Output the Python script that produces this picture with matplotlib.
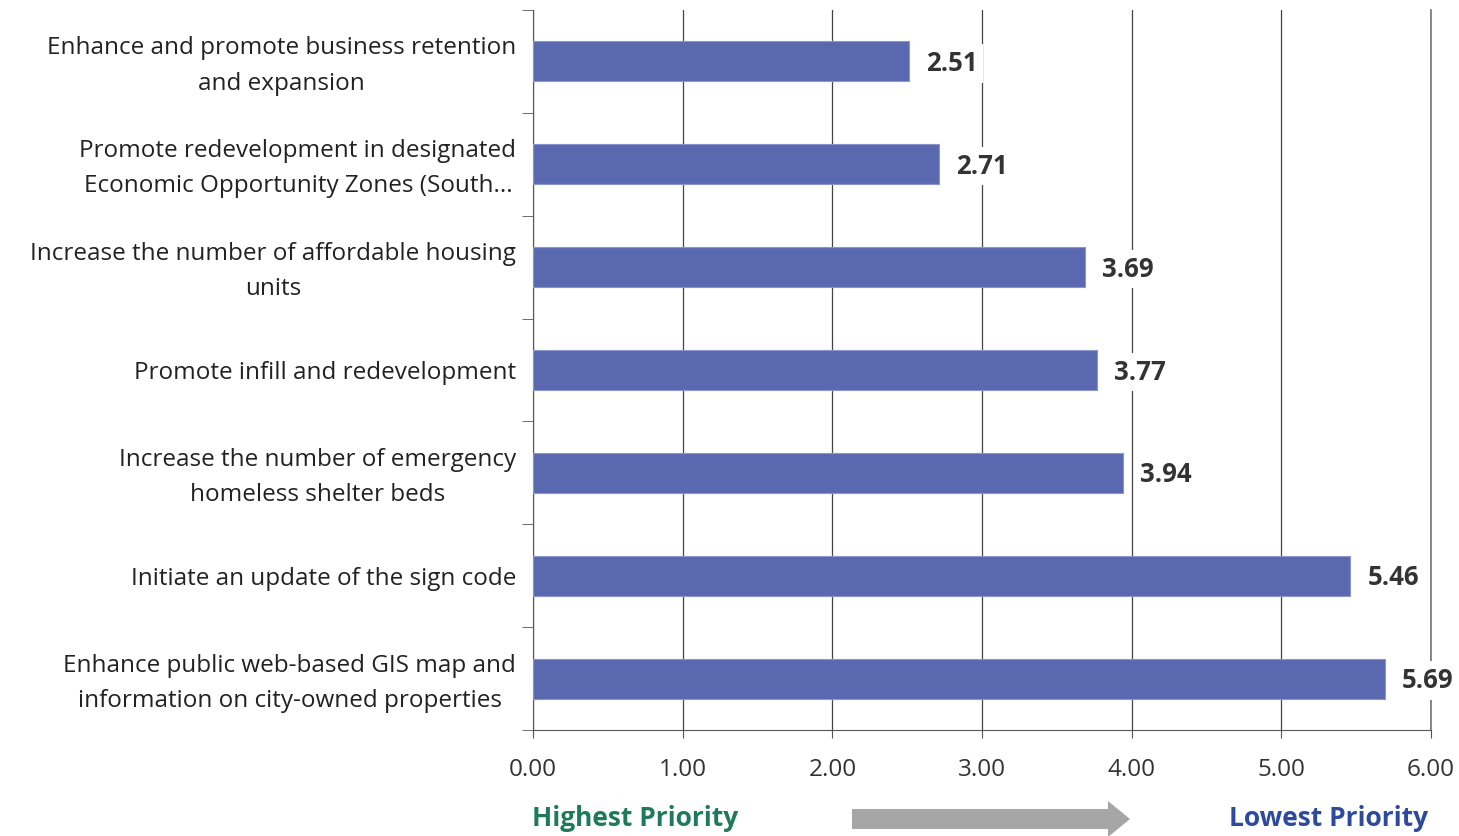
import matplotlib.pyplot as plt
from matplotlib.patches import FancyArrow
from matplotlib.transforms import ScaledTranslation

plt.rcParams['font.family'] = ['Open Sans', 'DejaVu Sans']

categories = [
    "Enhance and promote business retention\nand expansion",
    "Promote redevelopment in designated\nEconomic Opportunity Zones (South...",
    "Increase the number of affordable housing\nunits",
    "Promote infill and redevelopment",
    "Increase the number of emergency\nhomeless shelter beds",
    "Initiate an update of the sign code",
    "Enhance public web-based GIS map and\ninformation on city-owned properties",
]
scores = [2.51, 2.71, 3.69, 3.77, 3.94, 5.46, 5.69]
xticks = [0, 1, 2, 3, 4, 5, 6]

fig = plt.figure(figsize=(14.59, 8.36), dpi=100)
ax = fig.add_axes([533 / 1459, 1 - 730 / 836, (1431 - 533) / 1459, 720 / 836])

ypos = list(range(len(categories)))
ax.barh(ypos, scores, height=0.39, color='#5A68B0', edgecolor='#8C96CC', linewidth=0.8, zorder=3)
ax.set_ylim(len(categories) - 0.5, -0.5)
ax.set_xlim(0, 6)

for y, v in zip(ypos, scores):
    ax.text(v + 0.115, y + 0.02, f"{v:.2f}", va='center', ha='left', fontsize=18.5, fontweight='bold',
            color='#333333', zorder=4,
            bbox=dict(facecolor='white', edgecolor='none', pad=4))

ax.set_xticks(xticks)
ax.set_xticklabels([f"{t:.2f}" for t in xticks], fontsize=17.5, color='#333333')
ax.tick_params(axis='x', length=6, color='#555555', pad=14)
ax.set_yticks(ypos)
ax.set_yticklabels(categories, fontsize=17.5, color='#222222', ha='right',
                   multialignment='center', linespacing=1.62)
ax.tick_params(axis='y', length=0, pad=12)
# nudge two-line labels up a little
for lab in ax.get_yticklabels():
    if "\n" in lab.get_text():
        lab.set_transform(lab.get_transform() + ScaledTranslation(0, 4 / 100, fig.dpi_scale_trans))
ax.set_yticks([i - 0.5 for i in range(len(categories) + 1)], minor=True)
ax.tick_params(axis='y', which='minor', length=8, color='#555555')

ax.grid(axis='x', color='#444444', linewidth=0.9, zorder=0)
ax.axvline(6, color='#777777', linewidth=1.2, zorder=0, clip_on=False)
for s in ['top', 'right']:
    ax.spines[s].set_visible(False)
ax.spines['left'].set_color('#555555')
ax.spines['bottom'].set_color('#555555')

fig.text(532 / 1459, 1 - 818 / 836, "Highest Priority", fontsize=19, fontweight='bold',
         color='#1F7A5C', va='center', ha='left')
fig.text(1428 / 1459, 1 - 818 / 836, "Lowest Priority", fontsize=19, fontweight='bold',
         color='#2E4A9E', va='center', ha='right')
arrow = FancyArrow(852 / 1459, 1 - 819 / 836, (1108 - 852) / 1459, 0, width=20 / 836,
                   head_width=36 / 836, head_length=22 / 1459, length_includes_head=False,
                   transform=fig.transFigure, color='#A6A6A6', linewidth=0)
fig.patches.append(arrow)

fig.savefig('out.png', dpi=100)
